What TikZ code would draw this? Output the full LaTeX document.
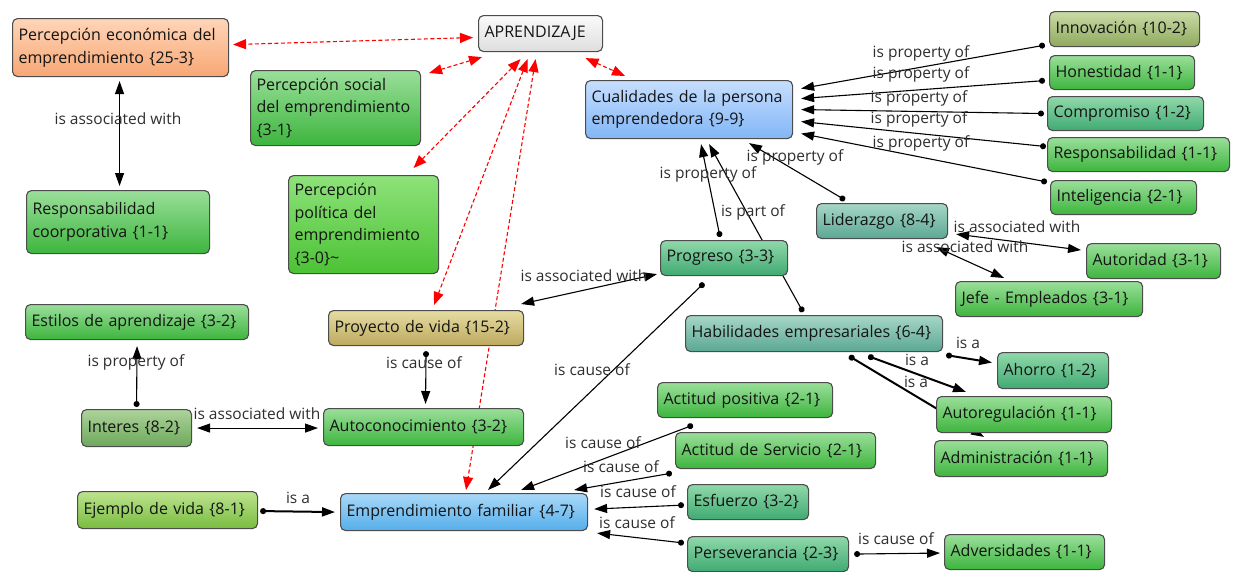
\documentclass[tikz,border=0pt]{standalone}
\usepackage{fontspec}
\setmainfont{Open Sans}
\usetikzlibrary{arrows.meta,calc,backgrounds}

% fills (top / bottom of the gradient)
\definecolor{grnT}{HTML}{9ADF9A}\definecolor{grnB}{HTML}{3DB53D}
\definecolor{brgT}{HTML}{8EE27A}\definecolor{brgB}{HTML}{4CC235}
\definecolor{tealT}{HTML}{A6D6C6}\definecolor{tealB}{HTML}{5BA893}
\definecolor{tgT}{HTML}{90D8AA}\definecolor{tgB}{HTML}{40AA72}
\definecolor{oliT}{HTML}{C9DBA5}\definecolor{oliB}{HTML}{8FA95E}
\definecolor{khkT}{HTML}{E6DCA2}\definecolor{khkB}{HTML}{BCA95E}
\definecolor{intT}{HTML}{ADD39A}\definecolor{intB}{HTML}{6EA85C}
\definecolor{ejT}{HTML}{BDE38E}\definecolor{ejB}{HTML}{78BC40}
\definecolor{bluT}{HTML}{C6DEFF}\definecolor{bluB}{HTML}{82B6F5}
\definecolor{cyaT}{HTML}{A9D9F9}\definecolor{cyaB}{HTML}{55AEEA}
\definecolor{orT}{HTML}{FFD5B8}\definecolor{orB}{HTML}{F7A774}
\definecolor{gryT}{HTML}{FAFAFA}\definecolor{gryB}{HTML}{DEDEDE}

\newcommand\conceptfont{\fontsize{16}{22.5}\selectfont}
\newcommand\relfont{\fontsize{15.5}{17}\selectfont}

\tikzset{
  concept/.style={draw=black!70, line width=1.1pt, rounded corners=5pt,
    anchor=north west, align=left, inner xsep=6pt, inner ysep=2pt,
    font=\conceptfont, text=black!92},
  sz/.style 2 args={text width=#1, minimum height=#2},
  green/.style={concept, top color=grnT, bottom color=grnB},
  brightgreen/.style={concept, top color=brgT, bottom color=brgB},
  teal/.style={concept, top color=tealT, bottom color=tealB},
  tealgreen/.style={concept, top color=tgT, bottom color=tgB},
  olive/.style={concept, top color=oliT, bottom color=oliB},
  khaki/.style={concept, top color=khkT, bottom color=khkB},
  mossy/.style={concept, top color=intT, bottom color=intB},
  lime/.style={concept, top color=ejT, bottom color=ejB},
  blue/.style={concept, top color=bluT, bottom color=bluB},
  cyan/.style={concept, top color=cyaT, bottom color=cyaB},
  orange/.style={concept, top color=orT, bottom color=orB},
  grey/.style={concept, top color=gryT, bottom color=gryB},
  rel/.style={font=\relfont, text=black!82, inner sep=0pt},
  link/.style={line width=1.1pt, {Circle[length=6pt]}-{Triangle[length=13pt,width=9pt]}},
  isa/.style={link, line width=2pt},
  plain/.style={line width=1.1pt, -{Triangle[length=13pt,width=9pt]}},
  twoway/.style={line width=1.1pt, {Triangle[length=13pt,width=9pt]}-{Triangle[length=13pt,width=9pt]}},
  redway/.style={red, line width=1.1pt, dash pattern=on 4pt off 2.5pt,
    {Triangle[length=13pt,width=10pt]}-{Triangle[length=13pt,width=10pt]}},
}

\begin{document}
\begin{tikzpicture}[x=1pt, y=-1pt]
    \useasboundingbox (0,0) rectangle (1233,571);
    % Concepts
    \node[orange, sz={204pt}{58pt}] (econ) at (12,18) {Percepción económica del\\emprendimiento \{25-3\}};
    \node[grey, sz={112pt}{36pt}] (apr) at (478,15) {APRENDIZAJE};
    \node[green, sz={158pt}{75pt}] (social) at (250,70) {Percepción social\\del emprendimiento\\\{3-1\}};
    \node[brightgreen, sz={138pt}{98pt}] (polit) at (288,175) {Percepción\\política del\\emprendimiento\\\{3-0\}\textasciitilde};
    \node[green, sz={171pt}{63pt}] (respc) at (26,190) {Responsabilidad\\coorporativa \{1-1\}};
    \node[blue, sz={195pt}{58pt}] (cual) at (585,80) {Cualidades de la persona\\emprendedora \{9-9\}};
    \node[olive, sz={138pt}{35pt}] (innov) at (1049,11) {Innovación \{10-2\}};
    \node[green, sz={133pt}{34pt}] (hon) at (1049,55) {Honestidad \{1-1\}};
    \node[tealgreen, sz={144pt}{34pt}] (comp) at (1047,96) {Compromiso \{1-2\}};
    \node[green, sz={170pt}{34pt}] (resp) at (1047,137) {Responsabilidad \{1-1\}};
    \node[green, sz={134pt}{34pt}] (intel) at (1050,180) {Inteligencia \{2-1\}};
    \node[teal, sz={119pt}{35pt}] (lider) at (816,203) {Liderazgo \{8-4\}};
    \node[green, sz={122pt}{35pt}] (autor) at (1086,243) {Autoridad \{3-1\}};
    \node[green, sz={175pt}{35pt}] (jefe) at (955,281) {Jefe - Empleados \{3-1\}};
    \node[tealgreen, sz={115pt}{35pt}] (prog) at (660,240) {Progreso \{3-3\}};
    \node[khaki, sz={183pt}{35pt}] (proy) at (328,310) {Proyecto de vida \{15-2\}};
    \node[green, sz={211pt}{35pt}] (estilos) at (25,304) {Estilos de aprendizaje \{3-2\}};
    \node[teal, sz={245pt}{36pt}] (habil) at (685,315) {Habilidades empresariales \{6-4\}};
    \node[tealgreen, sz={99pt}{36pt}] (ahorro) at (997,352) {Ahorro \{1-2\}};
    \node[green, sz={163pt}{36pt}] (autoreg) at (936,396) {Autoregulación \{1-1\}};
    \node[green, sz={161pt}{36pt}] (admin) at (934,440) {Administración \{1-1\}};
    \node[mossy, sz={98pt}{37pt}] (interes) at (81,409) {Interes \{8-2\}};
    \node[green, sz={188pt}{37pt}] (autocon) at (323,408) {Autoconocimiento \{3-2\}};
    \node[green, sz={163pt}{35pt}] (actpos) at (657,382) {Actitud positiva \{2-1\}};
    \node[green, sz={188pt}{36pt}] (actserv) at (675,432) {Actitud de Servicio \{2-1\}};
    \node[tealgreen, sz={109pt}{35pt}] (esf) at (687,484) {Esfuerzo \{3-2\}};
    \node[lime, sz={168pt}{37pt}] (ejemplo) at (77,491) {Ejemplo de vida \{8-1\}};
    \node[cyan, sz={235pt}{37pt}] (empfam) at (340,493) {Emprendimiento familiar \{4-7\}};
    \node[tealgreen, sz={149pt}{35pt}] (persev) at (687,536) {Perseverancia \{2-3\}};
    \node[green, sz={148pt}{35pt}] (advers) at (944,534) {Adversidades \{1-1\}};

    % Links, under the concepts
    \begin{scope}[on background layer]
        % APRENDIZAJE
        \draw[redway] ($(apr.west)+(-5,4)$) -- ($(econ.east)+(4,-3)$);
        \draw[redway] ($(apr.south west)+(4,5)$) -- ($(social.north east)+(8,3)$);
        \draw[redway] ($(apr.south)+(-20,7)$) -- ($(polit.north)+(50,-7)$);
        \draw[redway] ($(apr.south)+(-13,7)$) -- ($(proy.north)+(8,-5)$);
        \draw[redway] ($(apr.south)+(-5,7)$) -- ($(empfam.north)+(2,-3)$);
        \draw[redway] ($(apr.south)+(45,6)$) -- ($(cual.north west)+(40,-4)$);
        % Cualidades
        \draw[twoway] ($(econ.south)+(-1,4)$) -- ($(respc.north)+(1.5,-4)$);
        \draw[link] ($(innov.south west)+(-4,-2)$) -- ($(cual.east)+(8,-21)$);
        \draw[link] ($(hon.west)+(-4,8)$) -- ($(cual.east)+(8,-11)$);
        \draw[link] ($(comp.west)+(-3,0)$) -- ($(cual.east)+(8,0)$);
        \draw[link] ($(resp.west)+(-1,-8)$) -- ($(cual.east)+(8,12)$);
        \draw[link] ($(intel.north west)+(-3,2)$) -- ($(cual.east)+(8,24)$);
        \draw[link] ($(lider.north west)+(29,-3)$) -- ($(cual.south)+(60,4)$);
        \draw[link] ($(prog.north)+(-4,-3)$) -- ($(cual.south)+(12,5)$);
        \draw[plain] ($(prog.north)+(38,0)$) -- ($(cual.south)+(20,5)$);
        % Liderazgo
        \draw[twoway] ($(lider.south east)+(8,-5)$) -- ($(autor.west)+(-5,-11)$);
        \draw[twoway] ($(lider.south east)+(-12,8)$) -- ($(jefe.north)+(-45,-3)$);
        % Progreso
        \draw[twoway] ($(prog.south west)+(-3,-2)$) -- ($(proy.north east)+(-3,-6)$);
        \draw[link] ($(prog.south)+(-20,7)$) -- ($(empfam.north)+(24,-3)$);
        \draw[line width=1.1pt, -{Circle[length=6pt]}] ($(prog.south east)+(-5,0)$) -- ($(habil.north)+(-11,-3)$);
        % left side
        \draw[link] ($(proy.south)+(0,5)$) -- ($(autocon.north)+(2,-4)$);
        \draw[link] ($(interes.north)+(0,-2)$) -- ($(estilos.south)+(0,6)$);
        \draw[twoway] ($(interes.east)+(5,0)$) -- ($(autocon.west)+(-5,1)$);
        \draw[isa] ($(ejemplo.east)+(2,1)$) -- ($(empfam.west)+(-5,0)$);
        % causes of Emprendimiento familiar
        \draw[link] ($(actpos.south)+(-52,7)$) -- ($(empfam.north east)+(-67,-3)$);
        \draw[link] ($(actserv.south west)+(-3,4)$) -- ($(empfam.north east)+(-14,-3)$);
        \draw[link] ($(esf.west)+(-3,3)$) -- ($(empfam.east)+(6,-3)$);
        \draw[link] ($(persev.north west)+(-3,7)$) -- ($(empfam.south east)+(9,2)$);
        \draw[link] ($(persev.east)+(5,0)$) -- ($(advers.west)+(-4,1)$);
        % Habilidades empresariales
        \draw[isa] ($(habil.south east)+(3,3)$) -- ($(ahorro.west)+(-5,-8)$);
        \draw[isa] ($(habil.south)+(54,4)$) -- ($(autoreg.north)+(-58,-4)$);
        \draw[isa] ($(habil.south)+(35,4)$) -- ($(admin.north)+(-37,-3)$);
    \end{scope}

    % Link labels
    \node[rel] (r1) at (118,119) {is associated with};
    \node[rel] (r2) at (921,53) {is property of};
    \node[rel] (r3) at (921,74) {is property of};
    \node[rel] (r4) at (919,98) {is property of};
    \node[rel] (r5) at (919,119) {is property of};
    \node[rel] (r6) at (921,143) {is property of};
    \node[rel] (r7) at (795,157) {is property of};
    \node[rel] (r8) at (708,174) {is property of};
    \node[rel] (r9) at (753,212) {is part of};
    \node[rel] (r10) at (1017,227) {is associated with};
    \node[rel] (r11) at (965,247) {is associated with};
    \node[rel] (r12) at (584,276) {is associated with};
    \node[rel] (r13) at (592,370) {is cause of};
    \node[rel] (r14) at (424,363) {is cause of};
    \node[rel] (r15) at (136,362) {is property of};
    \node[rel] (r16) at (257,414) {is associated with};
    \node[rel] (r17) at (298,498) {is a};
    \node[rel] (r18) at (603,443) {is cause of};
    \node[rel] (r19) at (621,467) {is cause of};
    \node[rel] (r20) at (638,492) {is cause of};
    \node[rel] (r21) at (637,523) {is cause of};
    \node[rel] (r22) at (896,539) {is cause of};
    \node[rel] (r23) at (968,343) {is a};
    \node[rel] (r24) at (917,360) {is a};
    \node[rel] (r25) at (916,382) {is a};
\end{tikzpicture}
\end{document}
